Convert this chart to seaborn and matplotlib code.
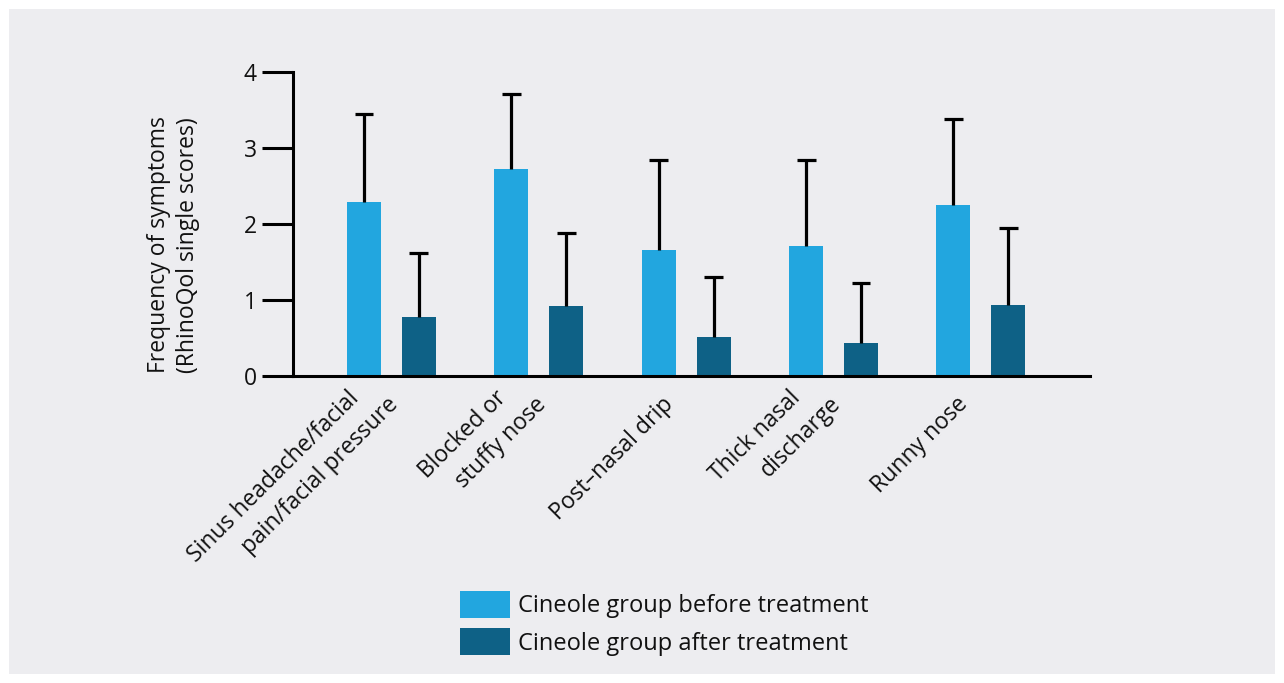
import matplotlib
matplotlib.use("Agg")
import matplotlib.pyplot as plt
import matplotlib.transforms as mtransforms
import seaborn as sns
import pandas as pd
import numpy as np
from matplotlib.patches import Rectangle, Patch

categories = ["Sinus headache/facial\npain/facial pressure", "Blocked or\nstuffy nose",
              "Post\u2013nasal drip", "Thick nasal\ndischarge", "Runny nose"]
groups = ["Cineole group before treatment", "Cineole group after treatment"]
before_mean = [2.29, 2.73, 1.66, 1.71, 2.25]
before_sd = [1.16, 0.98, 1.19, 1.14, 1.14]
after_mean = [0.78, 0.92, 0.51, 0.43, 0.94]
after_sd = [0.84, 0.96, 0.79, 0.79, 1.01]
colors = ["#22A6DF", "#0E6186"]

df = pd.DataFrame({
    "cat": categories * 2,
    "group": [groups[0]] * 5 + [groups[1]] * 5,
    "value": before_mean + after_mean,
    "sd": before_sd + after_sd,
})

sns.set_theme(style="white")
plt.rcParams["font.family"] = ["Open Sans", "DejaVu Sans"]
W, H = 1284, 683
FS = 16.5
LFS = 17
TXT = "#111111"
fig = plt.figure(figsize=(W / 100, H / 100), dpi=100, facecolor="white")
fig.patches.append(Rectangle((9 / W, 9 / H), (1275 - 9) / W, (674 - 9) / H,
                             transform=fig.transFigure, facecolor="#EDEDF0",
                             edgecolor="none", zorder=-10))
ax = fig.add_axes([292.7 / W, 1 - 376 / H, (1090 - 292.7) / W, (376 - 72.3) / H])
ax.set_facecolor("none")

sns.barplot(data=df, x="cat", y="value", hue="group", palette=colors,
            width=0.746, gap=0.383, errorbar=None, ax=ax, legend=False,
            saturation=1, linewidth=0, zorder=2)

ax.set_ylim(0, 4)
ax.set_xlim(-0.67, 4.74)

# one-sided (upper) error bars at the bar centres
cap_half = 0.064
for container, sds in zip(ax.containers, [before_sd, after_sd]):
    for bar, sd in zip(container, sds):
        xc = bar.get_x() + bar.get_width() / 2
        h = bar.get_height()
        ax.vlines(xc, h, h + sd, color="black", linewidth=2.3, zorder=3)
        ax.hlines(h + sd, xc - cap_half, xc + cap_half, color="black",
                  linewidth=2.3, zorder=3)

ax.set_yticks([0, 1, 2, 3, 4])
ax.tick_params(axis="y", length=22, width=2.2, color="black", labelsize=FS,
               pad=4, left=True, labelcolor=TXT)
for s in ["top", "right"]:
    ax.spines[s].set_visible(False)
for s in ["left", "bottom"]:
    ax.spines[s].set_color("black")
    ax.spines[s].set_linewidth(2.2)
ax.spines["bottom"].set_zorder(4)
ax.set_xlabel("")
ax.set_ylabel("Frequency of symptoms\n(RhinoQol single scores)", fontsize=FS,
              color=TXT, linespacing=1.3)
ax.yaxis.set_label_coords(-0.116, 0.432)

# category labels: rotated 45 degrees, each line shifted sideways
ax.set_xticks(range(len(categories)))
ax.set_xticklabels([""] * len(categories))
ax.tick_params(axis="x", length=0)
for i, cat in enumerate(categories):
    lines = cat.split("\n")
    n = len(lines)
    for j, line in enumerate(lines):
        if n == 1:
            dx, dy = -12, 29
        else:
            dx = -32 + 40 * j
            dy = 23 + 6 * j
        off = mtransforms.ScaledTranslation(dx / 100, -dy / 100, fig.dpi_scale_trans)
        ax.text(i, 0, line, rotation=45, rotation_mode="anchor", ha="right",
                va="baseline", fontsize=FS, color=TXT,
                transform=ax.get_xaxis_transform() + off, clip_on=False)

handles = [Patch(facecolor=c, edgecolor="none") for c in colors]
fig.legend(handles, groups, loc="upper left",
           bbox_to_anchor=(439 / W, 1 - 570 / H), frameon=False, fontsize=LFS,
           handlelength=2.2 * FS / LFS, handleheight=1.4 * FS / LFS,
           labelspacing=0.45 * FS / LFS, handletextpad=0.35 * FS / LFS,
           borderpad=0.4 * FS / LFS, labelcolor=TXT)

fig.savefig("out.png", dpi=100, facecolor="white")
